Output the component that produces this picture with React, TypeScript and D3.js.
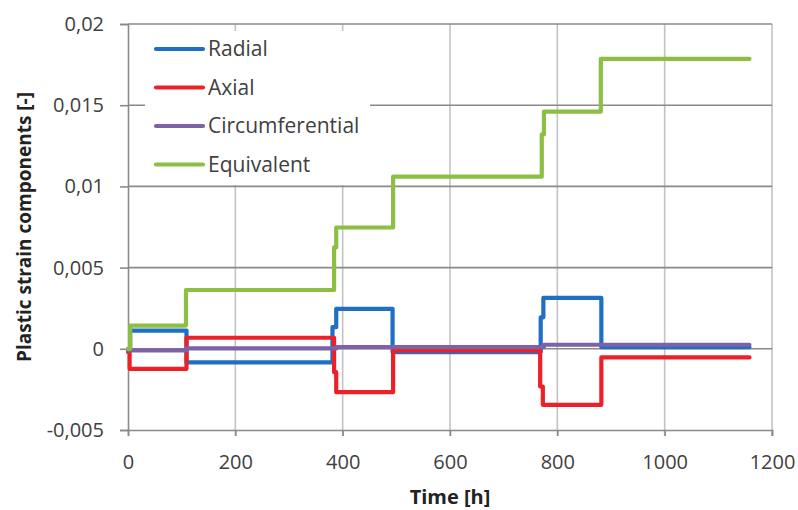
import React, { useEffect, useRef } from "react";
import * as d3 from "d3";

// time [h] and plastic strain, one step per point
const radialT = [0, 4, 109, 381, 388, 493, 769, 774, 882, 1158];
const radialV = [0, 0.00112, -0.00084, 0.00133, 0.00246, -0.0002, 0.00194, 0.00313, 0.0001, 0.0001];

const axialT = [0, 3, 109, 384, 388, 494, 768, 773, 882, 1158];
const axialV = [-0.0002, -0.00123, 0.00068, -0.00144, -0.00267, -0.0001, -0.00232, -0.00345, -0.00053, -0.00053];

const circT = [0, 109, 389, 775, 1158];
const circV = [-0.0001, 0.00003, 0.0001, 0.00025, 0.00025];

const equivT = [0, 4, 108, 384, 388, 494, 771, 775, 881, 1158];
const equivV = [0, 0.00143, 0.00362, 0.00624, 0.00747, 0.0106, 0.0132, 0.0146, 0.01785, 0.01785];

const seriesNames = ["Radial", "Axial", "Circumferential", "Equivalent"];
const seriesColors = ["#1f6fc5", "#ee2027", "#7e62a8", "#8dbf44"];

const xTicks = [0, 200, 400, 600, 800, 1000, 1200];
const yTicks = [-0.005, 0, 0.005, 0.01, 0.015, 0.02];

const W = 798,
  H = 510;

export default function App() {
  const ref = useRef<SVGSVGElement>(null);

  useEffect(() => {
    document.body.style.margin = "0";
    const svg = d3.select(ref.current);
    svg.selectAll("*").remove();

    var margin = { top: 24, right: 26, bottom: 80, left: 128 };
    var x = d3.scaleLinear().domain([0, 1200]).range([margin.left, W - margin.right]);
    var y = d3.scaleLinear().domain([-0.005, 0.02]).range([H - margin.bottom, margin.top]);

    const locale = d3.formatLocale({
      decimal: ",",
      thousands: ".",
      grouping: [3],
      currency: ["", ""],
      minus: "-",
    });
    const fmt = locale.format("~g");

    const font = "'Open Sans', sans-serif";

    // vertical grid (lighter)
    svg
      .append("g")
      .selectAll("line")
      .data(xTicks.slice(1))
      .join("line")
      .attr("x1", (d) => x(d))
      .attr("x2", (d) => x(d))
      .attr("y1", y(0.02))
      .attr("y2", y(-0.005) + 6)
      .attr("stroke", "#c3c3c3")
      .attr("stroke-width", 1.6);

    // horizontal grid (darker)
    svg
      .append("g")
      .selectAll("line")
      .data(yTicks.slice(1))
      .join("line")
      .attr("x1", x(0))
      .attr("x2", x(1200))
      .attr("y1", (d) => y(d))
      .attr("y2", (d) => y(d))
      .attr("stroke", "#8a8a8a")
      .attr("stroke-width", 1.6);

    // axes
    const yAxis = svg
      .append("g")
      .attr("transform", `translate(${x(0)},0)`)
      .call(d3.axisLeft(y).tickValues(yTicks).tickFormat((d) => fmt(d as number)).tickSize(8).tickPadding(16));
    const xAxis = svg
      .append("g")
      .attr("transform", `translate(0,${y(-0.005)})`)
      .call(d3.axisBottom(x).tickValues(xTicks).tickFormat((d) => String(d)).tickSize(6).tickPadding(19));

    [yAxis, xAxis].forEach((g) => {
      g.select(".domain").attr("stroke", "#8a8a8a").attr("stroke-width", 1.6);
      g.selectAll(".tick line").attr("stroke", "#8a8a8a").attr("stroke-width", 1.6);
      g.selectAll("text").attr("fill", "#404040").style("font-family", font).style("font-size", "20px");
    });

    // legend box hides grid lines
    svg
      .append("rect")
      .attr("x", 145)
      .attr("y", 31)
      .attr("width", 225)
      .attr("height", 154)
      .attr("fill", "#fff");

    const series = [
      [radialT, radialV],
      [axialT, axialV],
      [circT, circV],
      [equivT, equivV],
    ];

    const line = d3
      .line<[number, number]>()
      .x((d) => x(d[0]))
      .y((d) => y(d[1]))
      .curve(d3.curveStepAfter);

    series.forEach(([ts, vs], i) => {
      const pts = ts.map((t, k) => [t, vs[k]] as [number, number]);
      svg
        .append("path")
        .attr("d", line(pts))
        .attr("fill", "none")
        .attr("stroke", seriesColors[i])
        .attr("stroke-width", 4.2)
        .attr("stroke-linejoin", "round")
        .attr("stroke-linecap", "round");
    });

    // legend
    const leg = svg.append("g");
    seriesNames.forEach((name, i) => {
      const ly = 49 + i * 38.5;
      leg
        .append("line")
        .attr("x1", 156)
        .attr("x2", 203)
        .attr("y1", ly)
        .attr("y2", ly)
        .attr("stroke", seriesColors[i])
        .attr("stroke-width", 4.2)
        .attr("stroke-linecap", "round");
      leg
        .append("text")
        .attr("x", 208)
        .attr("y", ly)
        .attr("dy", "0.35em")
        .attr("fill", "#404040")
        .style("font-family", font)
        .style("font-size", "21px")
        .text(name);
    });

    // axis titles
    svg
      .append("text")
      .attr("x", (x(0) + x(1200)) / 2)
      .attr("y", 504)
      .attr("text-anchor", "middle")
      .attr("fill", "#222")
      .style("font-family", font)
      .style("font-weight", "bold")
      .style("font-size", "20px")
      .text("Time [h]");

    svg
      .append("text")
      .attr("transform", `translate(31,${(y(0.02) + y(-0.005)) / 2}) rotate(-90)`)
      .attr("text-anchor", "middle")
      .attr("fill", "#222")
      .style("font-family", font)
      .style("font-weight", "bold")
      .style("font-size", "19px")
      .text("Plastic strain components [-]");
  }, []);

  return <svg ref={ref} width={W} height={H} style={{ display: "block", background: "#fff" }} />;
}
